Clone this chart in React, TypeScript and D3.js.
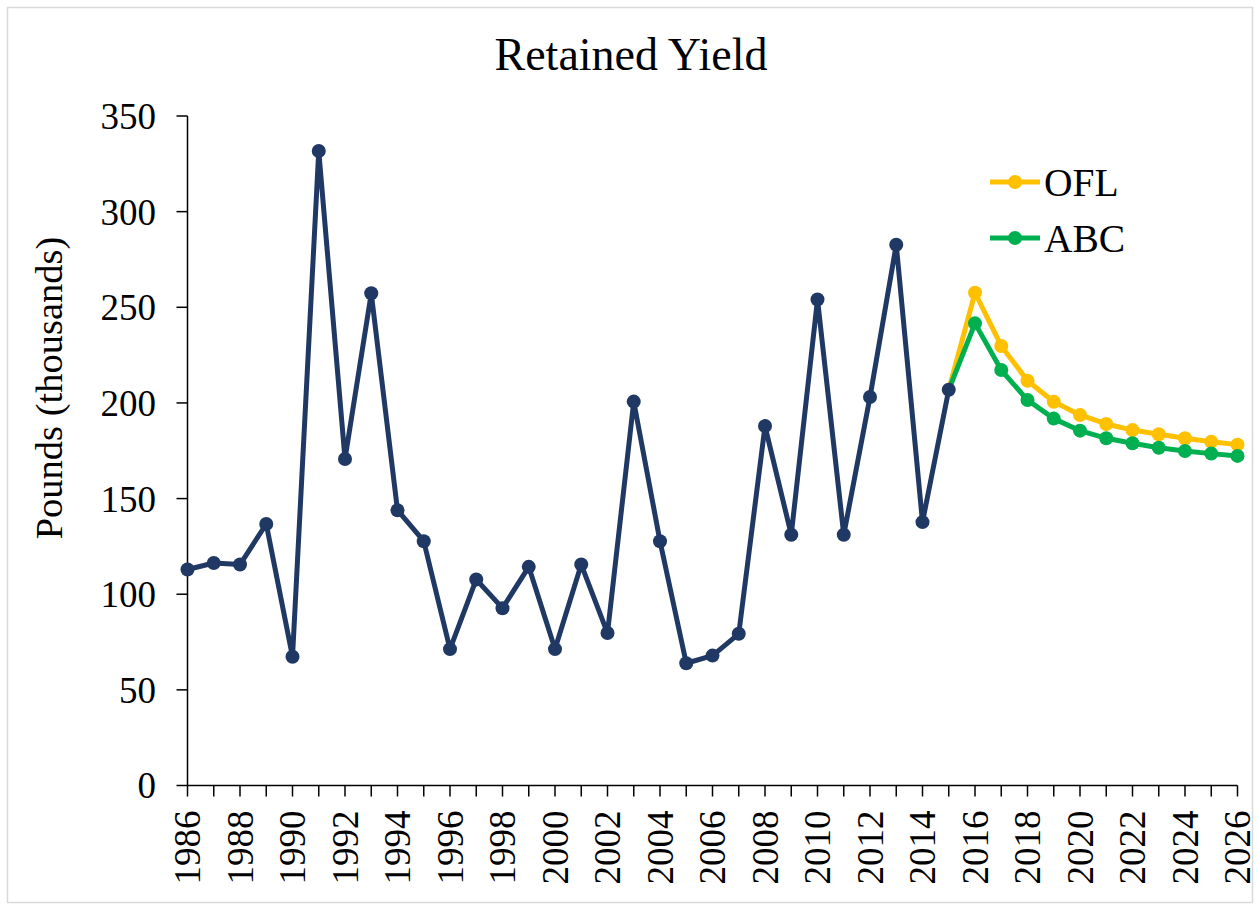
import React from "react";
import * as d3 from "d3";

const histYears = [1986,1987,1988,1989,1990,1991,1992,1993,1994,1995,1996,1997,1998,1999,2000,2001,2002,2003,2004,2005,2006,2007,2008,2009,2010,2011,2012,2013,2014,2015];
const histValues = [112.9,116.3,115.5,136.7,67.3,331.7,170.7,257.3,143.9,127.7,71.3,107.7,92.7,114.3,71.3,115.5,79.7,200.7,127.7,63.9,67.9,79.3,187.9,131.1,254.1,131.1,203.1,282.7,137.7,206.9];

const projYears = [2015,2016,2017,2018,2019,2020,2021,2022,2023,2024,2025,2026];
const oflValues = [206.9,257.6,229.8,211.6,200.6,193.7,189.0,185.8,183.6,181.5,179.7,178.2];
const abcValues = [206.9,241.6,217.2,201.5,191.8,185.5,181.5,178.9,176.6,174.9,173.5,172.3];

const yTicks = [0,50,100,150,200,250,300,350];
const xTickYears = d3.range(1986, 2027);
const xLabelYears = d3.range(1986, 2027, 2);

const legendItems = [
  { label: "OFL", color: "#FFC000" },
  { label: "ABC", color: "#00B050" },
];

const NAVY = "#203864";
const FONT = "'Liberation Serif', 'Times New Roman', serif";

export default function App() {
  const W = 1258, H = 905;
  const x = d3.scaleLinear().domain([1986, 2026]).range([187.5, 1237.5]);
  const y = d3.scaleLinear().domain([0, 350]).range([785.5, 116]);

  const line = d3.line<[number, number]>().x(d => x(d[0])).y(d => y(d[1]));
  const hist = histYears.map((yr, i) => [yr, histValues[i]] as [number, number]);
  const ofl = projYears.map((yr, i) => [yr, oflValues[i]] as [number, number]);
  const abc = projYears.map((yr, i) => [yr, abcValues[i]] as [number, number]);

  const series = [
    { data: ofl, color: "#FFC000" },
    { data: abc, color: "#00B050" },
    { data: hist, color: NAVY },
  ];

  return (
    <svg width={W} height={H} style={{ position: "absolute", left: 0, top: 0, background: "#fff" }} fontFamily={FONT}>
      <rect x={7.5} y={7.5} width={1245} height={895} fill="#fff" stroke="#d9d9d9" strokeWidth={1.5} />
      <text x={631} y={70} textAnchor="middle" fontSize={46} fill="#000">Retained Yield</text>

      {/* y axis */}
      <line x1={x(1986)} x2={x(1986)} y1={y(350)} y2={y(0)} stroke="#000" strokeWidth={1.5} />
      {yTicks.map(t => (
        <g key={t}>
          <line x1={x(1986) - 11} x2={x(1986)} y1={y(t)} y2={y(t)} stroke="#000" strokeWidth={1.5} />
          <text x={156} y={y(t)} dy="0.35em" textAnchor="end" fontSize={37} fill="#000">{t}</text>
        </g>
      ))}
      <text transform={`translate(62,${388}) rotate(-90)`} textAnchor="middle" fontSize={38.5} fill="#000">Pounds (thousands)</text>

      {/* x axis */}
      <line x1={x(1986)} x2={x(2026)} y1={y(0)} y2={y(0)} stroke="#000" strokeWidth={1.5} />
      {xTickYears.map(t => (
        <line key={t} x1={x(t)} x2={x(t)} y1={y(0)} y2={y(0) + 11} stroke="#000" strokeWidth={1.5} />
      ))}
      {xLabelYears.map(t => (
        <text key={t} transform={`translate(${x(t)},${y(0) + 25}) rotate(-90)`} textAnchor="end" dy="0.35em" fontSize={37} fill="#000">{t}</text>
      ))}

      {series.map((s, si) => (
        <g key={si}>
          <path d={line(s.data) || ""} fill="none" stroke={s.color} strokeWidth={5} strokeLinejoin="round" />
          {s.data.map((d, i) => (
            (s.color !== NAVY && i === 0) ? null :
            <circle key={i} cx={x(d[0])} cy={y(d[1])} r={7} fill={s.color} />
          ))}
        </g>
      ))}

      {/* legend */}
      {legendItems.map((it, i) => (
        <g key={it.label} transform={`translate(990,${182 + i * 56})`}>
          <line x1={0} x2={50} y1={0} y2={0} stroke={it.color} strokeWidth={5} />
          <circle cx={25} cy={0} r={7} fill={it.color} />
          <text x={54} y={0} dy="0.35em" fontSize={39.5} fill="#000">{it.label}</text>
        </g>
      ))}
    </svg>
  );
}
